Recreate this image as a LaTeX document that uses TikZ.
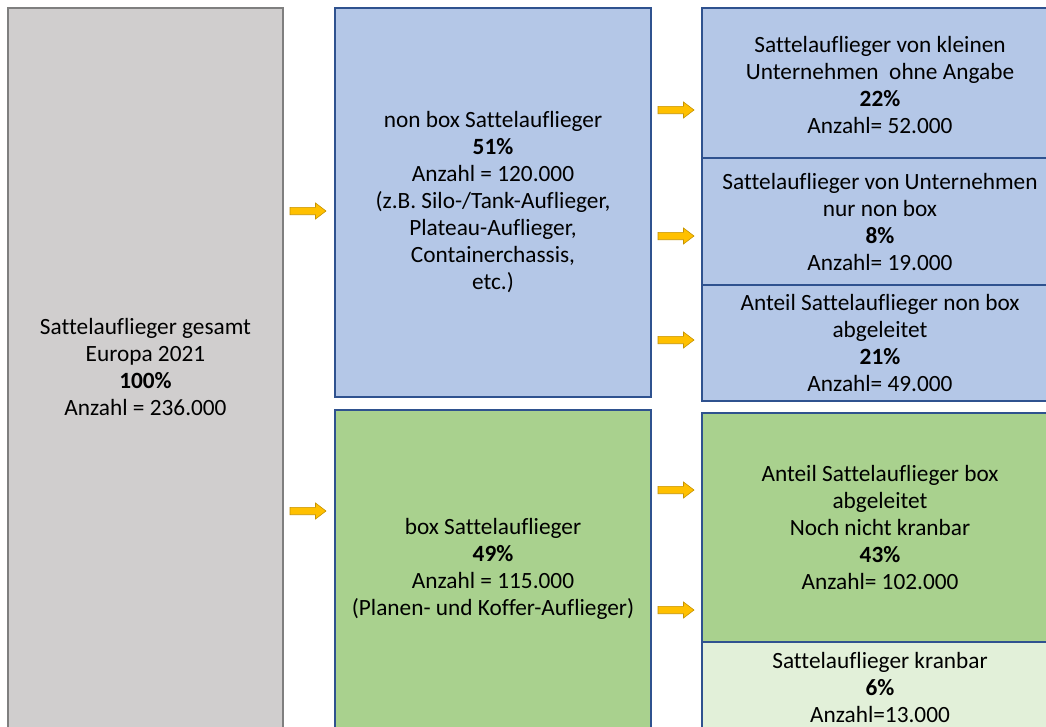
\documentclass[tikz,border=0pt]{standalone}
\usepackage{fontspec}
\setmainfont{Carlito}[Ligatures={NoCommon}]
\definecolor{grayfill}{HTML}{D0CECE}
\definecolor{grayline}{HTML}{7F7F7F}
\definecolor{bluefill}{HTML}{B4C7E7}
\definecolor{blueline}{HTML}{2F528F}
\definecolor{greenfill}{HTML}{A9D18E}
\definecolor{lightgreen}{HTML}{E2F0D9}
\definecolor{arrowfill}{HTML}{FFC000}
\definecolor{arrowline}{HTML}{C59200}
\tikzset{
  boxtext/.style={align=center, font=\fontsize{23.3}{27}\selectfont, inner sep=0pt},
  bluebox/.style={draw=blueline, fill=bluefill, line width=1.2pt},
  greenbox/.style={draw=blueline, fill=greenfill, line width=1.2pt},
  lgreenbox/.style={draw=blueline, fill=lightgreen, line width=1.2pt},
  graybox/.style={draw=grayline, fill=grayfill, line width=1.2pt},
  barrow/.pic={\draw[fill=arrowfill, draw=arrowline, line width=0.6pt, line join=miter]
    (0,-3.7) -- (25.5,-3.7) -- (25.5,-8) -- (36,0) -- (25.5,8) -- (25.5,3.7) -- (0,3.7) -- cycle;}
}
\begin{document}
\begin{tikzpicture}[x=1pt,y=-1pt]
\useasboundingbox (0,0) rectangle (1046,726);
\clip (0,0) rectangle (1046,726);
\fill[white] (0,0) rectangle (1046,726);
% boxes
\draw[graybox] (8,8) rectangle (283,740);
\draw[bluebox] (335,8) rectangle (651,397);
\draw[greenbox] (335,410) rectangle (651,740);
\draw[bluebox] (702,8) rectangle (1058,158);
\draw[bluebox] (702,158) rectangle (1058,285);
\draw[bluebox] (702,285) rectangle (1058,401);
\draw[greenbox] (702,413) rectangle (1058,642);
\draw[lgreenbox] (702,642) rectangle (1058,740);
% texts
\node[boxtext] (gesamt) at (145.5,367) {Sattelauflieger gesamt\\Europa 2021\\\textbf{100\%}\\Anzahl = 236.000};
\node[boxtext] (nonbox) at (493,202) {non box Sattelauflieger\\\textbf{51\%}\\Anzahl = 120.000\\(z.B. Silo-/Tank-Auflieger,\\Plateau-Auflieger,\\Containerchassis,\\etc.)};
\node[boxtext] (box) at (493,569) {box Sattelauflieger\\\textbf{49\%}\\Anzahl = 115.000\\(Planen- und Koffer-Auflieger)};
\node[boxtext] (r1) at (880,85) {Sattelauflieger von kleinen\\Unternehmen\ \ ohne Angabe\\\textbf{22\%}\\Anzahl= 52.000};
\node[boxtext] (r2) at (880,222) {Sattelauflieger von Unternehmen\\nur non box\\\textbf{8\%}\\Anzahl= 19.000};
\node[boxtext] (r3) at (880,343) {Anteil Sattelauflieger non box\\abgeleitet\\\textbf{21\%}\\Anzahl= 49.000};
\node[boxtext] (r4) at (880,527) {Anteil Sattelauflieger box\\abgeleitet\\Noch nicht kranbar\\\textbf{43\%}\\Anzahl= 102.000};
\node[boxtext] (r5) at (880,687) {Sattelauflieger kranbar\\\textbf{6\%}\\Anzahl=13.000};
% arrows
\pic at (290,211) {barrow};
\pic at (290,511) {barrow};
\pic at (658,110) {barrow};
\pic at (658,236) {barrow};
\pic at (658,340) {barrow};
\pic at (658,490) {barrow};
\pic at (658,610) {barrow};
\end{tikzpicture}
\end{document}
